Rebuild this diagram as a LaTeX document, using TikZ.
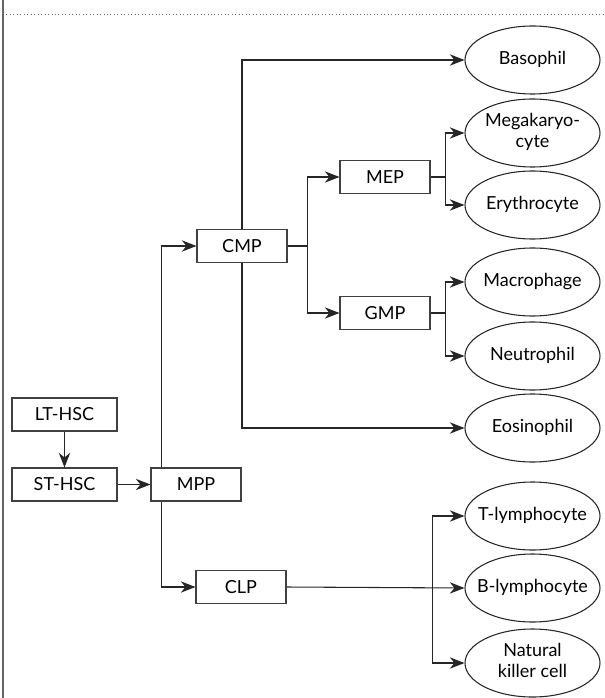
\documentclass[tikz,border=0pt]{standalone}
\usepackage{fontspec}
\setmainfont{Lato}
\usetikzlibrary{arrows.meta,shapes.geometric,calc}
\newcommand{\celltext}[1]{\makebox[0pt]{\begin{tabular}{@{}c@{}}#1\end{tabular}}}
\begin{document}
\begin{tikzpicture}[x=0.75pt,y=-0.75pt,
  line width=0.8pt,
  box/.style={draw=black!75,rectangle,minimum width=67.5pt,minimum height=24.75pt,inner sep=0pt,font=\fontsize{13.5}{15}\selectfont},
  cell/.style={draw=black!85,ellipse,minimum width=101.25pt,minimum height=51pt,inner sep=0pt,font=\fontsize{13.5}{16}\selectfont},
  link/.style={draw=black!85},
  arr/.style={link,-{Stealth[length=11pt,width=8.5pt,inset=3.5pt]}}]
\useasboundingbox (0,0) rectangle (604,698);
% frame
\draw[black!60,line width=1.1pt] (3,0) -- (3,698);
\draw[black!60,line width=0.6pt,dotted] (3,14) -- (604,14);
% boxes
\node[box,minimum width=78.75pt] (lt) at (64.5,414.5) {LT-HSC};
\node[box,minimum width=78.75pt] (st) at (64.5,484.5) {ST-HSC};
\node[box] (mpp) at (196,484.5) {MPP};
\node[box] (cmp) at (242,246) {CMP};
\node[box] (mep) at (385,177) {MEP};
\node[box] (gmp) at (385,313) {GMP};
\node[box] (clp) at (241,587) {CLP};
% cells
\node[cell] (baso) at (532.5,60) {\celltext{Basophil}};
\node[cell] (mega) at (532.5,133) {\celltext{Megakaryo-\\cyte}};
\node[cell] (ery) at (532.5,205) {\celltext{Erythrocyte}};
\node[cell] (mac) at (532.5,282) {\celltext{Macrophage}};
\node[cell] (neu) at (532.5,356) {\celltext{Neutrophil}};
\node[cell] (eos) at (532.5,428) {\celltext{Eosinophil}};
\node[cell] (tly) at (532.5,516) {\celltext{T-lymphocyte}};
\node[cell] (bly) at (532.5,588) {\celltext{B-lymphocyte}};
\node[cell] (nk) at (532.5,663) {\celltext{Natural\\killer cell}};
% connectors
\draw[arr] (lt) -- (st);
\draw[arr] (st) -- (mpp);
\draw[arr] ($(mpp.north west)+(11,0)$) |- (cmp.west);
\draw[arr] ($(mpp.south west)+(11,0)$) |- (clp.west);
\draw[arr] (cmp.north) |- (baso.west);
\draw[arr] (cmp.south) |- (eos.west);
\coordinate (j1) at ($(cmp.east)+(20,0)$);
\draw[link] (cmp.east) -- (j1);
\draw[arr] (j1) |- (mep.west);
\draw[arr] (j1) |- (gmp.west);
\coordinate (j2) at ($(mep.east)+(15,0)$);
\draw[link] (mep.east) -- (j2);
\draw[arr] (j2) |- (mega.west);
\draw[arr] (j2) |- (ery.west);
\coordinate (j3) at ($(gmp.east)+(15,0)$);
\draw[link] (gmp.east) -- (j3);
\draw[arr] (j3) |- (mac.west);
\draw[arr] (j3) |- (neu.west);
\draw[arr] (clp.east) -- (bly.west);
\coordinate (j4) at ($(bly.west)+(-32,0)$);
\draw[arr] (j4) |- (tly.west);
\draw[arr] (j4) |- (nk.west);
\end{tikzpicture}
\end{document}
